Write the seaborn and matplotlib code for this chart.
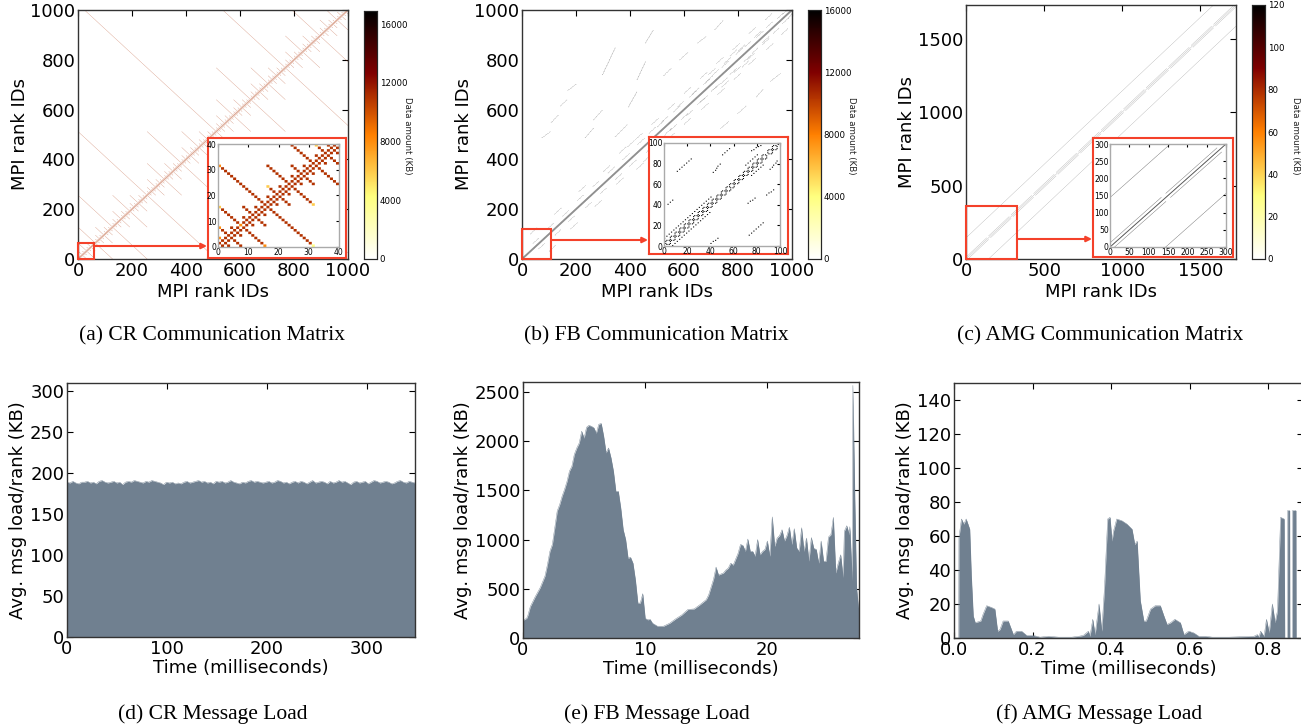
import numpy as np
import matplotlib
matplotlib.use("Agg")
import matplotlib.pyplot as plt
import seaborn as sns
from matplotlib.patches import Rectangle

sns.set_style("white")
plt.rcParams['font.family'] = ['DejaVu Sans']
plt.rcParams['text.color'] = 'black'
plt.rcParams['axes.labelcolor'] = 'black'
plt.rcParams['xtick.color'] = 'black'
plt.rcParams['ytick.color'] = 'black'

W, H = 1301, 726
SLATE = "slategray"
RED = "#f4412a"

# --- communication matrices (a, b, c) ---
cr_ranks = 1000
cr_block_sizes = [2, 4, 8, 16, 32, 64, 128, 256, 512, 1024]
cr_line_value = 11000
cr_vmax = 16900
cr_cbar_ticks = [0, 4000, 8000, 12000, 16000]
cr_inset_ranks = 40
cr_inset_ticks = [0, 10, 20, 30, 40]
# lighter cells at the line ends of the inset
cr_light_x = [0, 0, 0, 0, 16, 31, 31, 15, 7, 32]
cr_light_y = [31, 15, 7, 3, 23, 0, 16, 0, 8, 39]
cr_light_v = [8000, 6000, 8000, 8000, 6000, 4000, 6000, 8000, 8000, 6000]

fb_ranks = 1000
fb_vmax = 16000
fb_cbar_ticks = [0, 4000, 8000, 12000, 16000]
fb_diag_offsets = [-4, -2, 0, 2, 4]
# dashes above the diagonal, the matrix is symmetric
fb_x0 = [73, 107, 141, 169, 233, 264, 297, 344, 393, 425, 456, 523, 583, 650, 713, 300, 360, 420, 480,
         540, 600, 660, 720, 780, 840, 900, 500, 560, 620, 680, 740, 800, 860, 30, 120, 210, 390, 690, 770,
         40, 95, 150, 205, 262, 318, 372, 428, 470, 515, 575, 630, 672, 705, 748, 792, 825, 868, 905, 945, 965]
fb_y0 = [486, 547, 614, 676, 486, 558, 739, 490, 610, 719, 867, 735, 799, 867, 920, 350, 425, 480, 540,
         600, 665, 725, 785, 840, 905, 960, 530, 590, 650, 710, 770, 835, 890, 100, 180, 270, 450, 740, 815,
         62, 122, 172, 235, 290, 345, 398, 460, 505, 548, 610, 662, 700, 738, 785, 822, 852, 890, 930, 965, 985]
fb_x1 = [104, 134, 165, 201, 264, 297, 344, 388, 425, 456, 486, 552, 614, 681, 743, 325, 385, 445, 505,
         565, 625, 685, 745, 805, 865, 925, 525, 585, 645, 705, 765, 825, 885, 55, 145, 235, 415, 715, 795,
         62, 118, 172, 228, 285, 342, 396, 452, 494, 540, 598, 655, 695, 728, 772, 816, 848, 892, 928, 968, 985]
fb_y1 = [511, 578, 638, 703, 525, 598, 847, 538, 671, 791, 920, 766, 830, 893, 956, 375, 450, 505, 565,
         625, 690, 750, 810, 865, 930, 985, 555, 615, 675, 735, 795, 860, 915, 125, 205, 295, 475, 765, 840,
         84, 145, 194, 258, 313, 369, 422, 484, 529, 573, 633, 687, 723, 761, 809, 846, 875, 914, 953, 988, 1000]
fb_dash_step = 3
fb_inset_ranks = 100
fb_inset_ticks = [0, 20, 40, 60, 80, 100]
fb_ring_centers = [5, 13, 21, 29, 37, 45, 53, 60, 68, 76, 84, 93]
# two small circles per ring, cell offsets from the ring centre
fb_ring_dx = [-4, -4, 0, 0, -3, -1, -3, -1, 4, 4, 0, 0, 3, 1, 3, 1]
fb_ring_dy = [-3, -1, -3, -1, -4, -4, 0, 0, 3, 1, 3, 1, 4, 4, 0, 0]
fb_in_x0 = [11, 3, 42, 50, 40, 73, 72, 88, 91, 75, 0, 7, 70, 75]
fb_in_y0 = [72, 40, 71, 88, 2, 10, 41, 49, 74, 92, 7, 0, 78, 68]
fb_in_x1 = [24, 8, 48, 56, 46, 86, 78, 95, 98, 84, 40, 40, 80, 85]
fb_in_y1 = [85, 45, 79, 94, 7, 23, 46, 55, 83, 98, 47, 33, 88, 78]

amg_ranks = 1728
amg_value = 120
amg_vmax = 120
amg_cbar_ticks = [0, 20, 40, 60, 80, 100, 120]
amg_offsets = [0, 144, -144]
amg_plane = 144
amg_near = 12
amg_inset_ranks = 300
amg_inset_ticks = [0, 50, 100, 150, 200, 250, 300]
amg_in_x0 = [0, 0, 1, 0, 144, 12, 156, 0, 144]
amg_in_y0 = [0, 1, 0, 12, 156, 0, 144, 144, 0]
amg_in_x1 = [299, 298, 299, 132, 276, 144, 288, 155, 299]
amg_in_y1 = [299, 299, 298, 144, 288, 132, 276, 299, 155]

# --- message load (d, e, f) ---
cr_load = [189, 188, 190, 188, 187, 189, 189, 190, 188, 189, 187, 190, 191, 189, 188, 189, 190, 188, 189, 186,
           189, 190, 189, 191, 190, 189, 188, 190, 189, 191, 190, 189, 188, 186, 189, 188, 189, 187, 188, 187,
           189, 190, 188, 189, 190, 191, 189, 190, 188, 189, 187, 190, 189, 190, 188, 189, 191, 189, 188, 187,
           189, 188, 190, 191, 189, 190, 189, 188, 189, 190, 188, 189, 191, 190, 188, 189, 187, 189, 190, 188,
           190, 189, 187, 189, 191, 188, 189, 190, 189, 187, 190, 188, 189, 191, 189, 190, 188, 186, 189, 190,
           188, 189, 190, 187, 189, 191, 190, 188, 189, 190, 189, 187, 188, 190, 191, 189, 188, 190, 189, 188]
cr_time = np.linspace(0, 348, len(cr_load))

fb_time = [0, .3, .4, .6, 1, 1.4, 1.8, 2, 2.2, 2.4, 2.6, 2.8, 3, 3.2, 3.4, 3.6, 3.8, 4, 4.2, 4.4, 4.6, 4.8,
           5, 5.2, 5.4, 5.6, 5.8, 6, 6.2, 6.4, 6.6, 6.8, 7, 7.2, 7.4, 7.6, 7.8, 8, 8.2, 8.4, 8.6, 8.8, 9,
           9.2, 9.4, 9.6, 9.8, 10, 10.2, 10.4, 10.6, 10.8, 11, 11.5, 12, 12.5, 13, 13.5, 14, 14.5, 15, 15.2,
           15.4, 15.6, 15.8, 16, 16.2, 16.4, 16.6, 16.8, 17, 17.2, 17.4, 17.6, 17.8, 18, 18.2, 18.4, 18.6,
           18.8, 19, 19.2, 19.4, 19.6, 19.8, 20, 20.2, 20.4, 20.6, 20.8, 21, 21.2, 21.4, 21.6, 21.8, 22,
           22.2, 22.4, 22.6, 22.8, 23, 23.2, 23.4, 23.6, 23.8, 24, 24.2, 24.4, 24.6, 24.8, 25, 25.2, 25.4,
           25.6, 25.8, 26, 26.2, 26.3, 26.5, 26.7, 26.75, 26.95, 27, 27.15, 27.3, 27.5]
fb_load = [180, 200, 230, 320, 420, 510, 630, 745, 880, 950, 1120, 1290, 1355, 1440, 1510, 1590, 1695, 1745,
           1865, 1930, 1980, 2100, 2030, 2140, 2160, 2150, 2135, 2080, 2170, 2180, 2050, 1880, 1930, 1830,
           1695, 1490, 1490, 1320, 1100, 1000, 810, 820, 760, 590, 355, 355, 450, 200, 185, 190, 150, 135,
           120, 120, 150, 195, 235, 290, 295, 340, 390, 440, 520, 600, 720, 640, 650, 660, 690, 710, 760,
           740, 800, 860, 950, 940, 880, 1005, 880, 880, 830, 1000, 845, 880, 900, 985, 830, 1230, 930, 1015,
           1040, 1100, 985, 1040, 1125, 950, 1110, 915, 880, 1120, 880, 1015, 780, 1020, 910, 900, 760, 985,
           780, 780, 1025, 1050, 1225, 660, 760, 845, 615, 1085, 1140, 1050, 1130, 580, 2565, 1450, 510, 250]

amg_time = [0, .012, .0125, .019, .025, .031, .040, .044, .049, .054, .068, .074, .083, .095, .104, .111, .117,
            .125, .138, .151, .159, .172, .185, .202, .219, .24, .266, .30, .317, .329, .342, .346, .353, .359,
            .369, .376, .383, .391, .397, .402, .406, .414, .427, .44, .453, .46, .466, .474, .483, .489, .50,
            .512, .525, .534, .542, .551, .562, .576, .585, .597, .61, .623, .64, .657, .70, .763, .772, .776,
            .78, .789, .795, .802, .81, .817, .823, .831, .84, .8415, .8485, .849, .854, .8545, .861, .8615,
            .87, .8705, .888]
amg_load = [0, 0, 59, 70, 67, 70, 64, 37, 13, 9, 10, 14, 19, 18, 17, 4, 5,
            10, 10, 2, 4, 4, 1.5, 1.5, .5, 1, .5, .5, 1, 1.5, 4, 1, 11, 2,
            20, 4, 30, 70, 71, 57, 63, 70, 69, 67, 64, 55, 57, 22, 10, 10, 17,
            19, 19, 13, 8, 9, 11, 9, 2, 4, 3, 1, 1, .5, .5, 1, 2, .5,
            4, 1, 11, 3, 20, 9, 16, 71, 70, 0, 0, 75, 75, 0, 0, 75,
            75, 0, 0]


def box(l, t, r, b):
    return [l / W, 1 - b / H, (r - l) / W, (b - t) / H]


def paint(matrix, x0, y0, x1, y1, value, step=1):
    n = max(abs(x1 - x0), abs(y1 - y0))
    for k in range(0, n + 1, step):
        x = x0 + round((x1 - x0) * k / n)
        y = y0 + round((y1 - y0) * k / n)
        if 0 <= x < matrix.shape[1] and 0 <= y < matrix.shape[0]:
            matrix[y, x] = value


def xor_blocks(n, value):
    m = np.zeros((n, n))
    for size in cr_block_sizes:
        for lo in range(0, n, size):
            paint(m, lo, lo + size - 1, lo + size - 1, lo, value)
    return m


def draw_matrix(ax, cax, matrix, vmax, ticks, cbar_ticks=None, size=13):
    # snap off + antialiased: the cells smaller than a pixel blend into thin pale lines
    sns.heatmap(matrix, ax=ax, cmap="afmhot_r", vmin=0, vmax=vmax, mask=matrix == 0,
                cbar=cax is not None, cbar_ax=cax,
                cbar_kws=None if cax is None else {"ticks": cbar_ticks},
                xticklabels=False, yticklabels=False, antialiased=True, snap=False)
    ax.invert_yaxis()
    ax.set_xticks(ticks)
    ax.set_yticks(ticks)
    ax.set_xticklabels(ticks, rotation=0, fontsize=size)
    ax.set_yticklabels(ticks, rotation=0, fontsize=size)
    ax.tick_params(direction="in", top=True, right=True, length=4 if cax is not None else 2,
                   pad=2 if cax is not None else 1, width=0.8)
    for s in ax.spines.values():
        s.set_visible(True)
        s.set_color("#333333" if cax is not None else "#aaaaaa")
        s.set_linewidth(1)
    if cax is not None:
        ax.set_xlabel("MPI rank IDs", fontsize=13, labelpad=2)
        ax.set_ylabel("MPI rank IDs", fontsize=13, labelpad=1)
        cax.tick_params(labelsize=6.2, length=2, pad=2, direction="in", width=0.6)
        for s in cax.spines.values():
            s.set_visible(True)
            s.set_linewidth(0.8)


def matrix_panel(fig, axes_px, cbar_px, label_x, matrix, vmax, ticks, cbar_ticks,
                 zoom_size, arrow_y, frame_px, inset_px, inset, inset_vmax, inset_ticks):
    ax = fig.add_axes(box(*axes_px))
    cax = fig.add_axes(box(*cbar_px))
    draw_matrix(ax, cax, matrix, vmax, ticks, cbar_ticks)
    ax.add_patch(Rectangle((0, 0), zoom_size[0], zoom_size[1], fill=False, ec=RED, lw=1.5,
                           clip_on=False, zorder=5))
    frame = fig.add_axes(box(*frame_px), facecolor="white")
    frame.set_xticks([])
    frame.set_yticks([])
    for s in frame.spines.values():
        s.set_color(RED)
        s.set_linewidth(1.5)
    inner = fig.add_axes(box(*inset_px))
    draw_matrix(inner, None, inset, inset_vmax, inset_ticks, size=5.5)
    rect_right = axes_px[0] + zoom_size[0] * (axes_px[2] - axes_px[0]) / matrix.shape[1]
    frame.annotate("", xy=((frame_px[0] - 1) / W, 1 - arrow_y / H), xycoords="figure fraction",
                   xytext=(rect_right / W, 1 - arrow_y / H), textcoords="figure fraction",
                   arrowprops=dict(arrowstyle="-|>", color=RED, lw=1.5, shrinkA=0, shrinkB=0, mutation_scale=8),
                   annotation_clip=False)
    fig.text(label_x / W, 1 - 136 / H, "Data amount (KB)", rotation=270, fontsize=6.2,
             ha="center", va="center", color="#222222")


def load_panel(fig, axes_px, time, load, xlim, ylim, xticks, yticks, xlabels=None):
    ax = fig.add_axes(box(*axes_px))
    sns.lineplot(x=time, y=load, color=SLATE, lw=0.3, estimator=None, ax=ax)
    ax.fill_between(time, load, color=SLATE, lw=0)
    ax.set_xlim(*xlim)
    ax.set_ylim(*ylim)
    ax.set_xticks(xticks)
    ax.set_yticks(yticks)
    if xlabels:
        ax.set_xticklabels(xlabels)
    ax.tick_params(direction="in", top=True, right=True, length=4, labelsize=13, width=0.8,
                   left=True, bottom=True, pad=2)
    for s in ax.spines.values():
        s.set_visible(True)
        s.set_color("#333333")
        s.set_linewidth(1)
    ax.set_xlabel("Time (milliseconds)", fontsize=13, labelpad=1)
    ax.set_ylabel("Avg. msg load/rank (KB)", fontsize=13, labelpad=2)
    return ax


fig = plt.figure(figsize=(W / 100, H / 100), dpi=100)

# (a) CR
cr_matrix = xor_blocks(cr_ranks, cr_line_value)
cr_inset = xor_blocks(cr_inset_ranks, cr_line_value)
for x, y, v in zip(cr_light_x, cr_light_y, cr_light_v):
    cr_inset[y, x] = v
matrix_panel(fig, (78, 10, 348, 259), (364, 11, 377, 259), 407, cr_matrix, cr_vmax,
             [0, 200, 400, 600, 800, 1000], cr_cbar_ticks, (60, 64), 246,
             (208, 138, 346, 258), (218, 144, 339, 247), cr_inset, cr_vmax, cr_inset_ticks)

# (b) FB
fb_matrix = np.zeros((fb_ranks, fb_ranks))
for off in fb_diag_offsets:
    paint(fb_matrix, max(0, -off), max(0, off), fb_ranks - 1 - max(0, off), fb_ranks - 1 - max(0, -off), fb_vmax)
for x0, y0, x1, y1 in zip(fb_x0, fb_y0, fb_x1, fb_y1):
    # two cells side by side so the dots stay visible at this scale
    paint(fb_matrix, x0, y0, x1, y1, fb_vmax, fb_dash_step)
    paint(fb_matrix, x0 + 1, y0, x1 + 1, y1, fb_vmax, fb_dash_step)
fb_matrix = np.maximum(fb_matrix, fb_matrix.T)
fb_inset = np.zeros((fb_inset_ranks, fb_inset_ranks))
for c in fb_ring_centers:
    for dx, dy in zip(fb_ring_dx, fb_ring_dy):
        fb_inset[c + dy, c + dx] = fb_vmax
for x0, y0, x1, y1 in zip(fb_in_x0, fb_in_y0, fb_in_x1, fb_in_y1):
    paint(fb_inset, x0, y0, x1, y1, fb_vmax, 2)
fb_inset[98, 98] = fb_vmax
matrix_panel(fig, (522, 10, 792, 259), (808, 10, 821, 259), 851, fb_matrix, fb_vmax,
             [0, 200, 400, 600, 800, 1000], fb_cbar_ticks, (108, 120), 240,
             (649, 137, 788, 254), (664, 143, 780, 246), fb_inset, fb_vmax, fb_inset_ticks)

# (c) AMG
amg_matrix = np.zeros((amg_ranks, amg_ranks))
for off in amg_offsets:
    paint(amg_matrix, max(0, -off), max(0, off), amg_ranks - 1 - max(0, off), amg_ranks - 1 - max(0, -off), amg_value)
for lo in range(0, amg_ranks, amg_plane):
    paint(amg_matrix, lo, lo + amg_near, lo + amg_plane - amg_near, lo + amg_plane, amg_value)
    paint(amg_matrix, lo + amg_near, lo, lo + amg_plane, lo + amg_plane - amg_near, amg_value)
amg_inset = np.zeros((amg_inset_ranks, amg_inset_ranks))
for x0, y0, x1, y1 in zip(amg_in_x0, amg_in_y0, amg_in_x1, amg_in_y1):
    paint(amg_inset, x0, y0, x1, y1, amg_value)
matrix_panel(fig, (966, 5, 1236, 259), (1252, 5, 1265, 259), 1295, amg_matrix, amg_vmax,
             [0, 500, 1000, 1500], amg_cbar_ticks, (326, 360), 239,
             (1093, 138, 1233, 257), (1110, 144, 1226, 247), amg_inset, amg_vmax, amg_inset_ticks)

# (d)-(f) message load
load_panel(fig, (67, 383, 415, 637), cr_time, cr_load, (0, 348), (0, 310),
           [0, 100, 200, 300], [0, 50, 100, 150, 200, 250, 300])
load_panel(fig, (523, 382, 859, 638), fb_time, fb_load, (0, 27.5), (0, 2600),
           [0, 10, 20], [0, 500, 1000, 1500, 2000, 2500])
load_panel(fig, (954, 383, 1303, 638), amg_time, amg_load, (0, 0.888), (0, 150),
           [0, .2, .4, .6, .8], [0, 20, 40, 60, 80, 100, 120, 140], ["0.0", "0.2", "0.4", "0.6", "0.8"])

captions = ["(a) CR Communication Matrix", "(b) FB Communication Matrix", "(c) AMG Communication Matrix",
            "(d) CR Message Load", "(e) FB Message Load", "(f) AMG Message Load"]
caption_x = [212, 656, 1100, 213, 657, 1099]
caption_y = [336, 336, 336, 714, 714, 714]
for text, x, y in zip(captions, caption_x, caption_y):
    fig.text(x / W, 1 - y / H, text, family="Liberation Serif", fontsize=15.5, ha="center", va="center")

fig.savefig("out.png", dpi=100)
